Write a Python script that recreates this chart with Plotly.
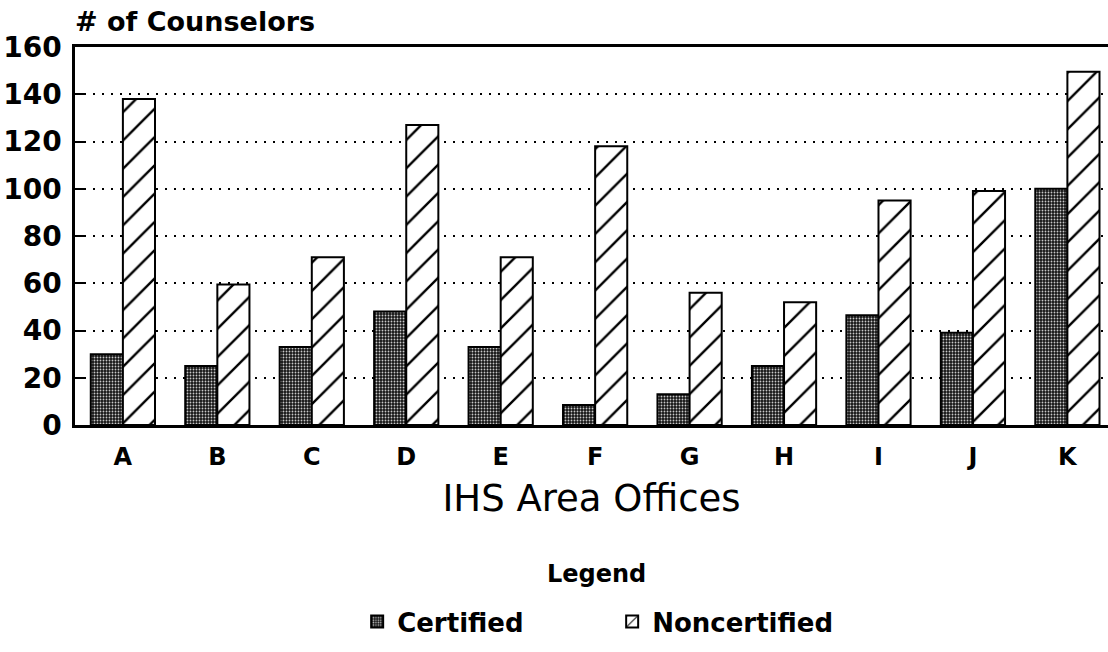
import plotly.graph_objects as go

offices = ["A", "B", "C", "D", "E", "F", "G", "H", "I", "J", "K"]
certified = [30, 25, 33, 48, 33, 8.5, 13, 25, 46.5, 39, 100]
noncertified = [138, 59.5, 71, 127, 71, 118, 56, 52, 95, 99, 149.5]
y_ticks = [0, 20, 40, 60, 80, 100, 120, 140, 160]

FONT = "DejaVu Sans"
W, H = 1108, 652

fig = go.Figure()
fig.add_trace(go.Bar(
    x=offices, y=certified, name="Certified",
    marker=dict(
        color="black",
        line=dict(color="black", width=2),
        pattern=dict(shape=".", bgcolor="#151515", fgcolor="#c8c8c8",
                     size=3, solidity=0.3, fillmode="replace"),
    ),
))
fig.add_trace(go.Bar(
    x=offices, y=noncertified, name="Noncertified",
    marker=dict(
        color="white",
        line=dict(color="black", width=2),
        pattern=dict(shape="/", bgcolor="white", fgcolor="black",
                     size=20, solidity=0.12, fillmode="replace"),
    ),
))

fig.update_layout(
    width=W, height=H,
    margin=dict(l=75, r=0, t=47, b=227, autoexpand=False),
    paper_bgcolor="white", plot_bgcolor="white",
    barmode="group", bargap=0.32, bargroupgap=0,
    font=dict(family=FONT, color="black"),
    title=dict(
        text="<b># of Counselors</b>",
        font=dict(family=FONT, size=27, color="black"),
        xref="container", yref="container",
        x=75 / W, xanchor="left",
        y=1 - 22 / H, yanchor="middle",
    ),
    xaxis=dict(
        range=[-0.507, 10.43], automargin=False,
        showline=True, linecolor="black", linewidth=2.5, mirror=True,
        ticks="", showgrid=False,
        tickfont=dict(family=FONT, size=24, color="black", weight="bold"),
        ticklabelstandoff=8,
        title=dict(text="IHS Area Offices",
                   font=dict(family=FONT, size=37, color="black"),
                   standoff=16),
    ),
    yaxis=dict(
        range=[0, 160], tickvals=y_ticks, automargin=False,
        showline=True, linecolor="black", linewidth=2.5, mirror=False,
        ticks="inside", ticklen=11, tickwidth=2, tickcolor="black",
        showgrid=True, gridcolor="black", gridwidth=2, griddash="2px,7px",
        zeroline=False,
        tickfont=dict(family=FONT, size=28, color="black", weight="bold"),
        ticklabelstandoff=5,
    ),
    legend=dict(
        orientation="h",
        x=0.52, xanchor="center",
        y=(425 - 598) / 378, yanchor="top",
        font=dict(family=FONT, size=26, color="black", weight="bold"),
        entrywidth=210, entrywidthmode="pixels",
        itemsizing="constant",
    ),
    annotations=[dict(
        text="<b>Legend</b>", xref="paper", yref="paper",
        x=(596 - 75) / 1033, xanchor="center",
        y=(425 - 574) / 378, yanchor="middle",
        showarrow=False,
        font=dict(family=FONT, size=24, color="black"),
    )],
)

fig.write_html("out.html", config={"displayModeBar": False},
               post_script="document.body.style.margin='0';")
